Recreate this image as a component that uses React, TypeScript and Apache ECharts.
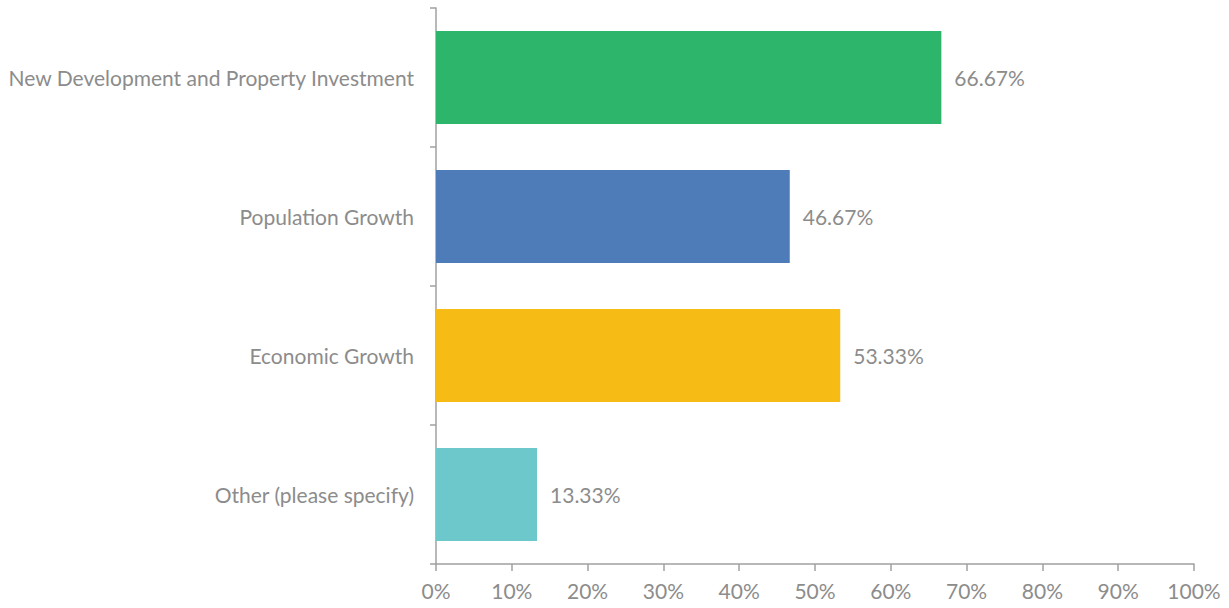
import React, { useEffect, useRef } from "react";
import * as echarts from "echarts";

const categories = [
  "New Development and Property Investment",
  "Population Growth",
  "Economic Growth",
  "Other (please specify)",
];
const values = [66.67, 46.67, 53.33, 13.33];
const colors = ["#2eb56c", "#4e7cb8", "#f6bc15", "#6cc8cb"];

const FONT = "Lato";
const TEXT = "#8c8c8c";
const AXIS = "#a0a0a0";

export default function App() {
  const ref = useRef<HTMLDivElement>(null);
  useEffect(() => {
    if (!ref.current) return;
    const chart = echarts.init(ref.current, undefined, { renderer: "svg" });
    chart.setOption({
      animation: false,
      grid: { left: 436, right: 35, top: 8, bottom: 44, containLabel: false },
      xAxis: {
        type: "value",
        min: 0,
        max: 100,
        interval: 10,
        axisLine: { show: true, lineStyle: { color: AXIS, width: 1.5 } },
        axisTick: { show: true, length: 7, lineStyle: { color: AXIS, width: 1.5 } },
        splitLine: { show: false },
        axisLabel: {
          formatter: "{value}%",
          color: TEXT,
          fontFamily: FONT,
          fontSize: 21,
          margin: 16,
        },
      },
      yAxis: {
        type: "category",
        data: categories,
        inverse: true,
        axisLine: { show: true, lineStyle: { color: AXIS, width: 1.5 } },
        axisTick: { show: true, length: 6, lineStyle: { color: AXIS, width: 1.5 } },
        axisLabel: {
          color: TEXT,
          fontFamily: FONT,
          fontSize: 21,
          margin: 22,
        },
      },
      series: [
        {
          type: "bar",
          barWidth: 93,
          data: values.map((v, i) => ({ value: v, itemStyle: { color: colors[i] } })),
          label: {
            show: true,
            position: "right",
            distance: 13,
            formatter: (p: any) => p.value.toFixed(2) + "%",
            color: TEXT,
            fontFamily: FONT,
            fontSize: 21,
          },
        },
      ],
    });
    return () => chart.dispose();
  }, []);
  return <div ref={ref} style={{ width: 1229, height: 608, position: "absolute", left: 0, top: 0 }} />;
}
